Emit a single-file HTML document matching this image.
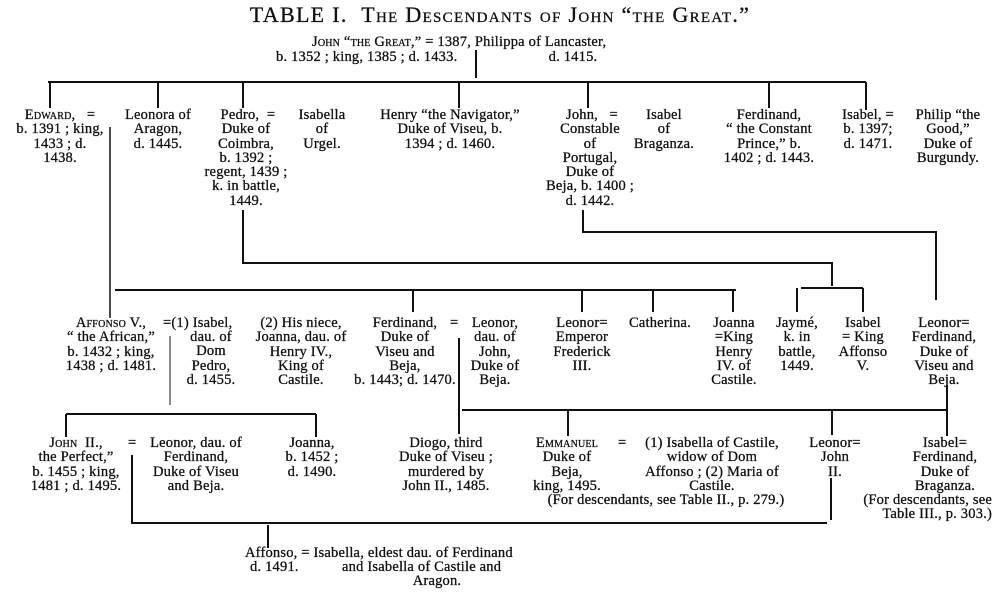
<!DOCTYPE html>
<html><head><meta charset="utf-8"><style>
html,body{margin:0;padding:0;background:#fff;}
body{width:1000px;height:597px;position:relative;overflow:hidden;font-family:"Liberation Serif",serif;color:#111;}
.c{position:absolute;transform:translateX(-50%);text-align:center;white-space:nowrap;font-size:14.5px;line-height:14.3px;letter-spacing:0.2px;-webkit-text-stroke:0.3px #111;}
.l{position:absolute;white-space:nowrap;font-size:14.5px;line-height:14.3px;letter-spacing:0.2px;-webkit-text-stroke:0.3px #111;}
.sc{font-variant:small-caps;}
svg{position:absolute;left:0;top:0;}
</style></head><body>
<svg width="1000" height="597" stroke="#111" stroke-width="2" fill="none">
<path d="M476 50V78"/>
<path d="M48 82H866"/>
<path d="M50 82V108M158 82V108M243 82V108M459 82V108M588 82V108M769 82V108M866 82V110"/>
<path d="M110 127V318" stroke-width="1.5"/>
<path d="M243 210V263H832V286M801 288H863M797 288V312M863 288V312"/>
<path d="M115 290H736M413 290V312M582 290V312M653 290V312M733 290V312"/>
<path d="M583 210V232H936V300"/>
<path d="M170 336V405" stroke-width="1"/>
<path d="M66 414H316M66 414V437M316 414V437"/>
<path d="M459 338V434"/>
<path d="M462 410H948M568 410V436M832 410V435M947 385V436"/>
<path d="M132 455V523H827M831 478V520M268 525V548"/>
</svg>

<div class="c" style="left:500px;top:4px;font-size:22px;line-height:22px;letter-spacing:1.3px;">TABLE I.&nbsp; <span class="sc">The Descendants of John “the Great.”</span></div>
<div class="l" style="left:312px;top:35px;"><span class="sc">John “the Great,”</span> = 1387, Philippa of Lancaster,</div>
<div class="l" style="left:276px;top:50px;">b. 1352 ; king, 1385 ; d. 1433.</div>
<div class="c" style="left:573px;top:50px;">d. 1415.</div>

<div class="c" style="left:60px;top:108px;"><span class="sc">Edward,</span> &nbsp; =<br>b. 1391 ; king,<br>1433 ; d.<br>1438.</div>
<div class="c" style="left:158px;top:108px;">Leonora of<br>Aragon,<br>d. 1445.</div>
<div class="c" style="left:246px;top:108px;">&nbsp;Pedro, &nbsp;=<br>Duke of<br>Coimbra,<br>b. 1392 ;<br>regent, 1439 ;<br>k. in battle,<br>1449.</div>
<div class="c" style="left:322px;top:108px;">Isabella<br>of<br>Urgel.</div>
<div class="c" style="left:450px;top:108px;">Henry “the Navigator,”<br>Duke of Viseu, b.<br>1394 ; d. 1460.</div>
<div class="c" style="left:590px;top:108px;">&nbsp;John, &nbsp; =<br>Constable<br>of<br>Portugal,<br>Duke of<br>Beja, b. 1400 ;<br>d. 1442.</div>
<div class="c" style="left:664px;top:108px;">Isabel<br>of<br>Braganza.</div>
<div class="c" style="left:769px;top:108px;">Ferdinand,<br>“ the Constant<br>Prince,” b.<br>1402 ; d. 1443.</div>
<div class="c" style="left:868px;top:108px;">Isabel, =<br>b. 1397;<br>d. 1471.</div>
<div class="c" style="left:948px;top:108px;">Philip “the<br>Good,”<br>Duke of<br>Burgundy.</div>

<div class="c" style="left:111px;top:316px;"><span class="sc">Affonso</span> V.,<br>“ the African,”<br>b. 1432 ; king,<br>1438 ; d. 1481.</div>
<div class="l" style="left:163px;top:316px;">=(1) Isabel,</div>
<div class="c" style="left:211px;top:330px;">dau. of<br>Dom<br>Pedro,<br>d. 1455.</div>
<div class="c" style="left:301px;top:316px;">(2) His niece,<br>Joanna, dau. of<br>Henry IV.,<br>King of<br>Castile.</div>
<div class="c" style="left:405px;top:316px;">Ferdinand,<br>Duke of<br>Viseu and<br>Beja,<br>b. 1443; d. 1470.</div>
<div class="l" style="left:450px;top:316px;">=</div>
<div class="c" style="left:495px;top:316px;">Leonor,<br>dau. of<br>John,<br>Duke of<br>Beja.</div>
<div class="c" style="left:582px;top:316px;">Leonor=<br>Emperor<br>Frederick<br>III.</div>
<div class="c" style="left:660px;top:316px;">Catherina.</div>
<div class="c" style="left:734px;top:316px;">Joanna<br>=King<br>Henry<br>IV. of<br>Castile.</div>
<div class="c" style="left:797px;top:316px;">Jaymé,<br>k. in<br>battle,<br>1449.</div>
<div class="c" style="left:863px;top:316px;">Isabel<br>= King<br>Affonso<br>V.</div>
<div class="c" style="left:944px;top:316px;">Leonor=<br>Ferdinand,<br>Duke of<br>Viseu and<br>Beja.</div>

<div class="c" style="left:76px;top:436px;"><span class="sc">John</span> &nbsp;II.,<br>the Perfect,”<br>b. 1455 ; king,<br>1481 ; d. 1495.</div>
<div class="l" style="left:128px;top:436px;">=</div>
<div class="c" style="left:196px;top:436px;">Leonor, dau. of<br>Ferdinand,<br>Duke of Viseu<br>and Beja.</div>
<div class="c" style="left:312px;top:436px;">Joanna,<br>b. 1452 ;<br>d. 1490.</div>
<div class="c" style="left:446px;top:436px;">Diogo, third<br>Duke of Viseu ;<br>murdered by<br>John II., 1485.</div>
<div class="c" style="left:567px;top:436px;"><span class="sc">Emmanuel</span><br>Duke of<br>Beja,<br>king, 1495.</div>
<div class="l" style="left:618px;top:436px;">=</div>
<div class="c" style="left:712px;top:436px;">(1) Isabella of Castile,<br>widow of Dom<br>Affonso ; (2) Maria of<br>Castile.</div>
<div class="c" style="left:666px;top:493px;">(For descendants, see Table II., p. 279.)</div>
<div class="c" style="left:835px;top:436px;">Leonor=<br>John<br>II.</div>
<div class="c" style="left:945px;top:436px;">Isabel=<br>Ferdinand,<br>Duke of<br>Braganza.</div>
<div class="l" style="right:8px;top:493px;text-align:right;">(For descendants, see<br>Table III., p. 303.)</div>

<div class="l" style="left:245px;top:546px;">Affonso, = Isabella, eldest dau. of Ferdinand</div>
<div class="l" style="left:250px;top:560px;">d. 1491.</div>
<div class="l" style="left:342px;top:560px;">and Isabella of Castile and</div>
<div class="c" style="left:437px;top:574px;">Aragon.</div>
</body></html>
